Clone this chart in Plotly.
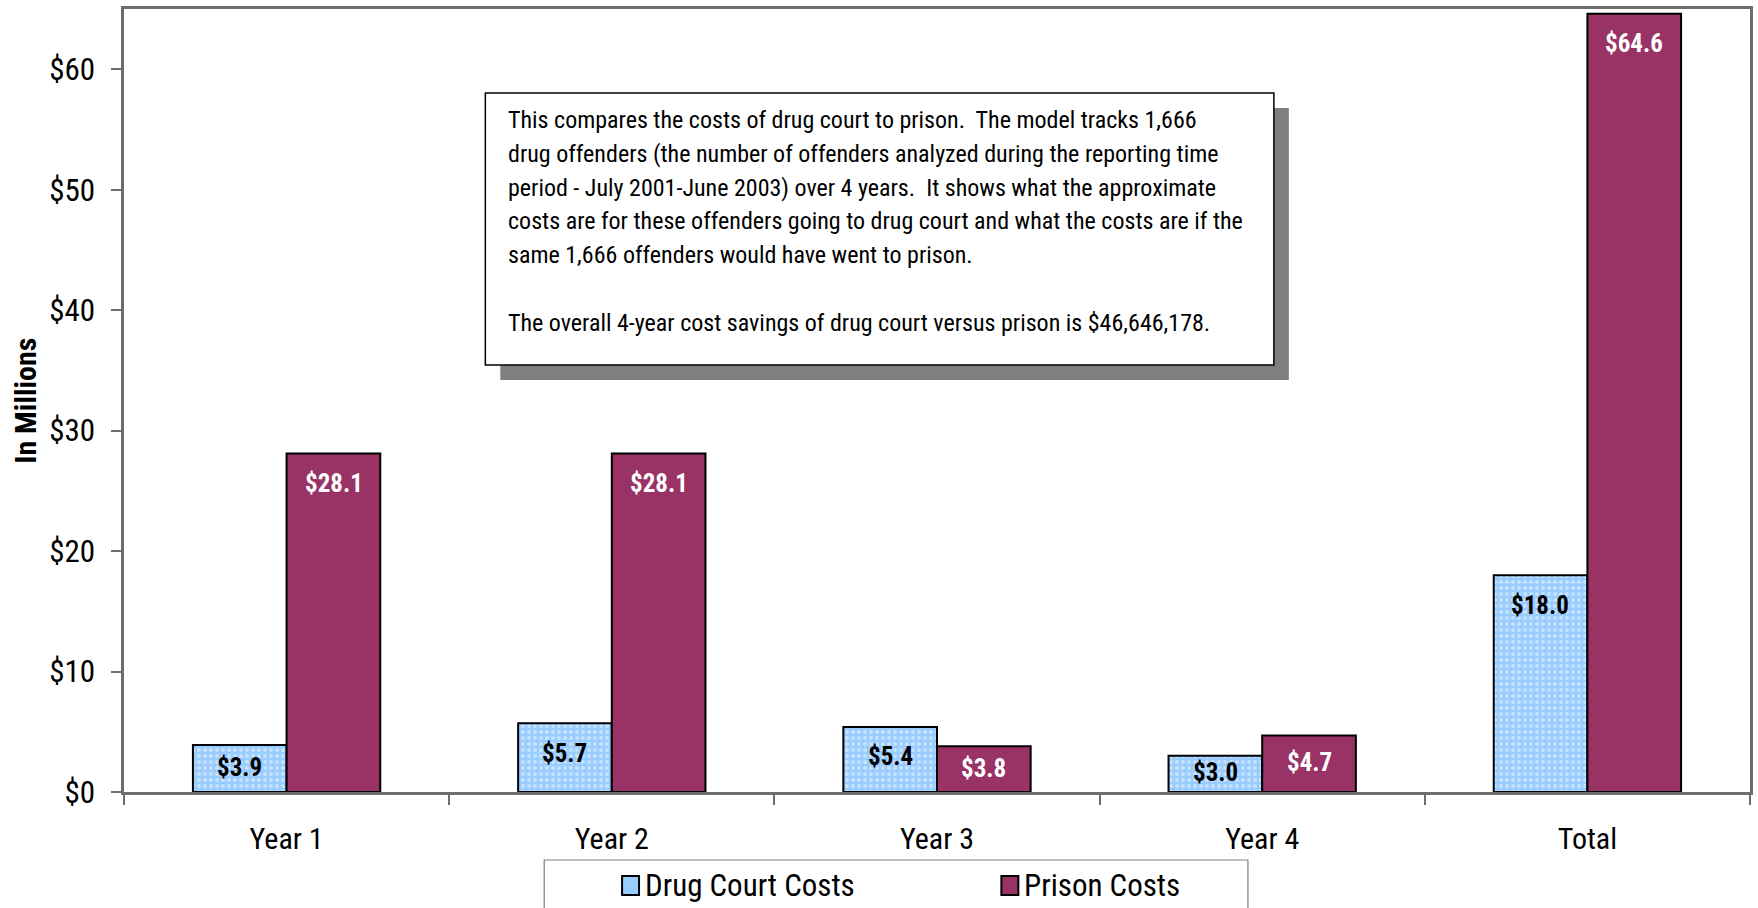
import plotly.graph_objects as go

# ---- data -------------------------------------------------------------
categories = ["Year 1", "Year 2", "Year 3", "Year 4", "Total"]
drug_court_costs = [3.9, 5.7, 5.4, 3.0, 18.0]      # $ millions
prison_costs = [28.1, 28.1, 3.8, 4.7, 64.6]        # $ millions
series_names = ["Drug Court Costs", "Prison Costs"]
y_tick_values = [0, 10, 20, 30, 40, 50, 60]
y_tick_labels = ["$0", "$10", "$20", "$30", "$40", "$50", "$60"]
y_axis_title = "In Millions"
note_lines = [
    "This compares the costs of drug court to prison.\u00a0 The model tracks 1,666",
    "drug offenders (the number of offenders analyzed during the reporting time",
    "period - July 2001-June 2003) over 4 years.\u00a0 It shows what the approximate",
    "costs are for these offenders going to drug court and what the costs are if the",
    "same 1,666 offenders would have went to prison.",
    "",
    "The overall 4-year cost savings of drug court versus prison is $46,646,178.",
]

# ---- layout constants ---------------------------------------------------
W, H = 1758, 908
ML, MR, MT, MB = 124, 5, 9, 116
PLOT_W = W - ML - MR
PLOT_H = H - MT - MB
Y_MAX = 65
BARGAP = 0.424
NARROW = "Roboto Condensed, Archivo Narrow, PT Sans Narrow, sans-serif"
DRUG_BLUE = "#99CCFF"
PLUM = "#993366"
AXIS_GREY = "#6E6E6E"


def px_x(px):
    """Horizontal pixel position -> paper coordinate."""
    return (px - ML) / PLOT_W


def px_y(py):
    """Vertical pixel position (from top) -> paper coordinate."""
    return (H - MB - py) / PLOT_H


fig = go.Figure()

fig.add_trace(go.Bar(
    name=series_names[0], x=categories, y=drug_court_costs,
    marker=dict(
        color=DRUG_BLUE,
        pattern=dict(shape=".", fgcolor="#F2F8FF", bgcolor=DRUG_BLUE,
                     size=6, solidity=0.35),
        line=dict(color="black", width=2),
    ),
    showlegend=False,
))
fig.add_trace(go.Bar(
    name=series_names[1], x=categories, y=prison_costs,
    marker=dict(color=PLUM, line=dict(color="black", width=2)),
    showlegend=False,
))

# ---- value labels inside the top of each bar ----------------------------
px_per_unit = PLOT_H / Y_MAX
bar_px = PLOT_W / len(categories) * (1 - BARGAP) / 2
annotations = []
for values, shift, colour in [(drug_court_costs, -bar_px / 2, "black"),
                              (prison_costs, bar_px / 2, "white")]:
    for cat, v in zip(categories, values):
        h = v * px_per_unit
        drop = min(30, h / 2 - 1)
        annotations.append(dict(
            x=cat, y=v, xref="x", yref="y", text=f"<b>${v:.1f}</b>",
            showarrow=False, xshift=shift, yshift=-drop, yanchor="middle",
            font=dict(family=NARROW, size=25, color=colour),
        ))

# ---- axis title ---------------------------------------------------------
annotations.append(dict(
    x=px_x(25), y=0.5, xref="paper", yref="paper", text=f"<b>{y_axis_title}</b>",
    textangle=-90, showarrow=False, xanchor="center", yanchor="middle",
    font=dict(family=NARROW, size=30, color="black"),
))

# ---- explanatory note box -------------------------------------------------
BOX = (486, 93, 1276, 365)
SHADOW = 15
shapes = [
    dict(type="rect", xref="paper", yref="paper",
         x0=px_x(BOX[0] + SHADOW), x1=px_x(BOX[2] + SHADOW),
         y0=px_y(BOX[3] + SHADOW), y1=px_y(BOX[1] + SHADOW),
         fillcolor="#808080", line=dict(width=0), layer="above"),
    dict(type="rect", xref="paper", yref="paper",
         x0=px_x(BOX[0]), x1=px_x(BOX[2]), y0=px_y(BOX[3]), y1=px_y(BOX[1]),
         fillcolor="white", line=dict(color="black", width=1.5), layer="above"),
]
for i, line in enumerate(note_lines):
    if not line:
        continue
    annotations.append(dict(
        x=px_x(507), y=px_y(120 + i * 33.8), xref="paper", yref="paper",
        text=line, showarrow=False, xanchor="left", yanchor="middle",
        font=dict(family=NARROW, size=24, color="black"),
    ))

# ---- legend (drawn below the axis) ---------------------------------------
shapes.append(dict(type="rect", xref="paper", yref="paper",
                   x0=px_x(545), x1=px_x(1250), y0=px_y(935), y1=px_y(860),
                   fillcolor="white", line=dict(color="#808080", width=1.2)))
legend_items = [(623, DRUG_BLUE, series_names[0]), (1003, PLUM, series_names[1])]
for x_left, fill, label in legend_items:
    shapes.append(dict(type="rect", xref="paper", yref="paper",
                       x0=px_x(x_left), x1=px_x(x_left + 17),
                       y0=px_y(895), y1=px_y(876),
                       fillcolor=fill, line=dict(color="black", width=2)))
    annotations.append(dict(
        x=px_x(x_left + 21), y=px_y(885), xref="paper", yref="paper",
        text=label, showarrow=False, xanchor="left", yanchor="middle",
        font=dict(family=NARROW, size=31, color="black"),
    ))

fig.update_layout(
    width=W, height=H,
    margin=dict(l=ML, r=MR, t=MT, b=MB),
    paper_bgcolor="white", plot_bgcolor="white",
    barmode="group", bargap=BARGAP, bargroupgap=0,
    showlegend=False,
    annotations=annotations, shapes=shapes,
    xaxis=dict(
        type="category", tickson="boundaries", ticks="outside", ticklen=10,
        tickwidth=1.5, tickcolor=AXIS_GREY,
        showline=True, linecolor=AXIS_GREY, linewidth=2.5, mirror=True,
        showgrid=False, ticklabelstandoff=18,
        tickfont=dict(family=NARROW, size=30, color="black"),
    ),
    yaxis=dict(
        range=[0, Y_MAX], tickvals=y_tick_values, ticktext=y_tick_labels,
        ticks="outside", ticklen=10, tickwidth=1.5, tickcolor=AXIS_GREY,
        showline=True, linecolor=AXIS_GREY, linewidth=2.5, mirror=True,
        showgrid=False, zeroline=False, ticklabelstandoff=10,
        tickfont=dict(family=NARROW, size=31, color="black"),
    ),
)

fig.write_html("out.html")
